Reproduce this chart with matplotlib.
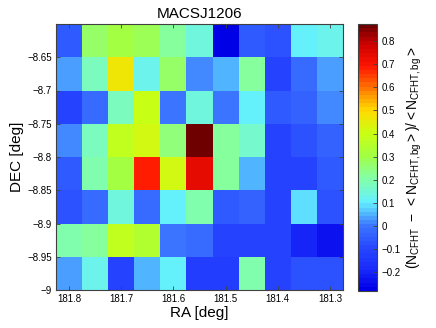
import numpy as np
import matplotlib
matplotlib.use("Agg")
import matplotlib.pyplot as plt
from matplotlib.colors import LinearSegmentedColormap, ListedColormap
from matplotlib.ticker import FuncFormatter

plt.rcParams['font.family'] = ['Liberation Sans', 'DejaVu Sans']
plt.rcParams['mathtext.fontset'] = 'custom'
plt.rcParams['mathtext.rm'] = 'Liberation Sans'
plt.rcParams['mathtext.it'] = 'Liberation Sans'
plt.rcParams['mathtext.bf'] = 'Liberation Sans:bold'

title = "MACSJ1206"

# cell edges (deg)
ra_edges = [181.825, 181.775, 181.725, 181.675, 181.625, 181.575,
            181.525, 181.475, 181.425, 181.375, 181.325, 181.275]
dec_edges = [-8.6, -8.65, -8.7, -8.75, -8.8, -8.85, -8.9, -8.95, -9.0]

# overdensity, rows from top (DEC -8.6) to bottom, columns from left (high RA)
overdensity = [
    [-0.05, 0.27, 0.30, 0.28, 0.22, 0.15, -0.28, -0.06, -0.08, 0.10, 0.13],
    [0.03, 0.18, 0.47, 0.12, 0.27, 0.01, 0.06, 0.21, -0.10, -0.02, 0.03],
    [-0.10, -0.02, 0.18, 0.40, 0.00, 0.15, 0.00, 0.10, -0.06, -0.04, 0.01],
    [0.01, 0.18, 0.38, 0.42, 0.25, 0.873, 0.22, 0.16, -0.10, -0.07, -0.04],
    [-0.06, 0.20, 0.31, 0.68, 0.42, 0.73, 0.21, 0.06, -0.10, -0.10, -0.05],
    [-0.07, -0.02, 0.14, -0.02, 0.10, 0.20, -0.05, -0.03, -0.10, 0.09, -0.07],
    [0.20, 0.22, 0.38, 0.34, 0.00, -0.02, -0.11, -0.10, -0.10, -0.20, -0.23],
    [0.03, 0.12, -0.11, 0.06, 0.11, -0.12, -0.12, 0.19, -0.10, -0.07, -0.07],
]

vmin, vmax = -0.28, 0.873

# colour anchors
cb_values = [-0.28, -0.2, -0.1, 0.0, 0.05, 0.1, 0.2, 0.3, 0.4, 0.5, 0.6, 0.7, 0.8, 0.873]
cb_colors = ['#0000e6', '#1828fa', '#2848ff', '#3c78ff', '#50b4ff', '#64f0ff',
             '#82ffaa', '#a0ff46', '#c8ff14', '#ffdc00', '#ff7800', '#ff1400',
             '#c80000', '#6e0000']

pos = [(v - vmin) / (vmax - vmin) for v in cb_values]
smooth = LinearSegmentedColormap.from_list('cb', list(zip(pos, cb_colors)))
cmap = ListedColormap(smooth(np.linspace(0, 1, 64)))

fig = plt.figure(figsize=(4.36, 3.28), dpi=100)
ax = fig.add_axes([56 / 436, 1 - 290 / 328, 287 / 436, 266 / 328])
cax = fig.add_axes([358 / 436, 1 - 291 / 328, 19 / 436, 267 / 328])

mesh = ax.pcolormesh(ra_edges, dec_edges, np.array(overdensity),
                     cmap=cmap, vmin=vmin, vmax=vmax)
ax.set_xlim(ra_edges[0], ra_edges[-1])
ax.set_ylim(dec_edges[-1], dec_edges[0])


def fmt(x, pos):
    return ('%g' % round(x, 3)).replace('-', '\u2212')


ax.set_xticks([181.8, 181.7, 181.6, 181.5, 181.4, 181.3])
ax.set_yticks([-9.0, -8.95, -8.9, -8.85, -8.8, -8.75, -8.7, -8.65])
ax.xaxis.set_major_formatter(FuncFormatter(fmt))
ax.yaxis.set_major_formatter(FuncFormatter(fmt))
ax.tick_params(direction='in', top=True, right=True, length=3, width=0.6,
               labelsize=7, color='#404040', pad=3)
for s in ax.spines.values():
    s.set_color('#404040')
    s.set_linewidth(0.8)

ax.set_xlabel('RA [deg]', fontsize=11, labelpad=1)
ax.set_ylabel('DEC [deg]', fontsize=11, labelpad=2)
ax.set_title(title, fontsize=11, pad=4)

cb = fig.colorbar(mesh, cax=cax)
cb.set_ticks([-0.2, -0.1, 0, 0.1, 0.2, 0.3, 0.4, 0.5, 0.6, 0.7, 0.8])
cb.ax.yaxis.set_major_formatter(FuncFormatter(fmt))
cb.ax.tick_params(direction='in', length=3, width=0.6, labelsize=7,
                  color='#404040', pad=3)
cb.outline.set_edgecolor('#404040')
cb.outline.set_linewidth(0.8)
cb.set_label(r'$(N_{\mathrm{CFHT}}\ -\ {<}N_{\mathrm{CFHT,bg}}{>})/{<}N_{\mathrm{CFHT,bg}}{>}$',
             fontsize=10, labelpad=3)

fig.savefig('out.png', dpi=100)
